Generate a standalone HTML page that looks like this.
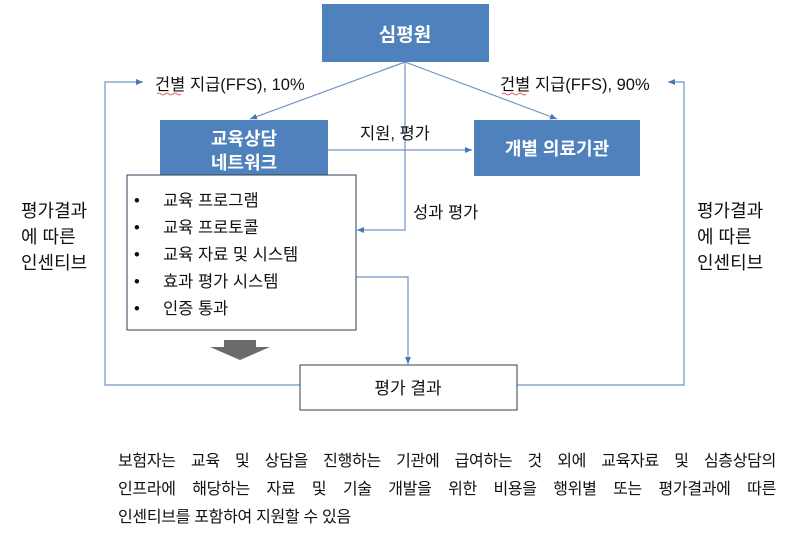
<!DOCTYPE html>
<html><head><meta charset="utf-8"><style>
html,body{margin:0;padding:0;background:#fff;}
body{width:800px;height:538px;overflow:hidden;position:relative;font-family:"Liberation Sans","Noto Sans CJK KR",sans-serif;}
svg{position:absolute;left:0;top:0;}
.p{position:absolute;left:118px;width:658px;font-size:16px;color:#111;text-align:justify;text-align-last:justify;line-height:28px;letter-spacing:-0.3px;}
</style></head><body>
<svg width="800" height="538" font-family="Liberation Sans, Noto Sans CJK KR, sans-serif">
<defs><marker id="a" markerWidth="8" markerHeight="8" refX="7" refY="4" orient="auto" markerUnits="userSpaceOnUse"><path d="M0,1 L7,4 L0,7 z" fill="#4a78b5"/></marker></defs>
<g stroke="#6f94c6" stroke-width="1.2" fill="none">
<line x1="405" y1="62" x2="250" y2="119" marker-end="url(#a)"/>
<line x1="405" y1="62" x2="557" y2="119" marker-end="url(#a)"/>
<polyline points="405,62 405,230 357,230" marker-end="url(#a)"/>
<line x1="328" y1="150" x2="472" y2="150" marker-end="url(#a)"/>
<polyline points="356,277 408,277 408,364" marker-end="url(#a)"/>
<polyline points="300,385 105,385 105,82 143,82" marker-end="url(#a)"/>
<polyline points="517,385 684,385 684,82 668,82" marker-end="url(#a)"/>
</g>
<rect x="322" y="4" width="167" height="58" fill="#4f81bd"/>
<text x="405" y="41" fill="#fff" font-size="19" font-weight="bold" text-anchor="middle">심평원</text>
<rect x="160" y="120" width="168" height="56" fill="#4f81bd"/>
<text x="244" y="145" fill="#fff" font-size="18" font-weight="bold" text-anchor="middle">교육상담</text>
<text x="244" y="169" fill="#fff" font-size="18" font-weight="bold" text-anchor="middle">네트워크</text>
<rect x="474" y="120" width="166" height="56" fill="#4f81bd"/>
<text x="557" y="155" fill="#fff" font-size="18" font-weight="bold" text-anchor="middle">개별 의료기관</text>
<rect x="127" y="175" width="229" height="155" fill="#fff" stroke="#2c3e55" stroke-width="1"/>
<g font-size="16.5" fill="#111">
<text x="134" y="206">•</text><text x="163" y="206">교육 프로그램</text>
<text x="134" y="233">•</text><text x="163" y="233">교육 프로토콜</text>
<text x="134" y="260">•</text><text x="163" y="260">교육 자료 및 시스템</text>
<text x="134" y="287">•</text><text x="163" y="287">효과 평가 시스템</text>
<text x="134" y="314">•</text><text x="163" y="314">인증 통과</text>
</g>
<path d="M224,340 L256,340 L256,347 L270,347 L240,360 L210,347 L224,347 z" fill="#6b6b6b"/>
<rect x="300" y="365" width="217" height="45" fill="#fff" stroke="#2c3e55" stroke-width="1"/>
<text x="408" y="394" font-size="17" text-anchor="middle" fill="#111">평가 결과</text>
<g font-size="16.5" fill="#111">
<text x="155" y="90">건별 지급(FFS), 10%</text>
<text x="500" y="90">건별 지급(FFS), 90%</text>
<text x="360" y="139">지원, 평가</text>
<text x="413" y="218">성과 평가</text>
</g>
<g font-size="18" fill="#111">
<text x="21" y="217">평가결과</text><text x="21" y="243">에 따른</text><text x="21" y="269">인센티브</text>
<text x="697" y="217">평가결과</text><text x="697" y="243">에 따른</text><text x="697" y="269">인센티브</text>
</g>
<path d="M157,94 q2,-2 4,0 t4,0 t4,0 t4,0 t4,0 t4,0" stroke="#d33" stroke-width="0.8" fill="none"/>
<path d="M502,94 q2,-2 4,0 t4,0 t4,0 t4,0 t4,0 t4,0" stroke="#d33" stroke-width="0.8" fill="none"/>
</svg>
<div class="p" style="top:448px">보험자는 교육 및 상담을 진행하는 기관에 급여하는 것 외에 교육자료 및 심층상담의</div>
<div class="p" style="top:476px">인프라에 해당하는 자료 및 기술 개발을 위한 비용을 행위별 또는 평가결과에 따른</div>
<div class="p" style="top:504px;text-align-last:left">인센티브를 포함하여 지원할 수 있음</div>
</body></html>
